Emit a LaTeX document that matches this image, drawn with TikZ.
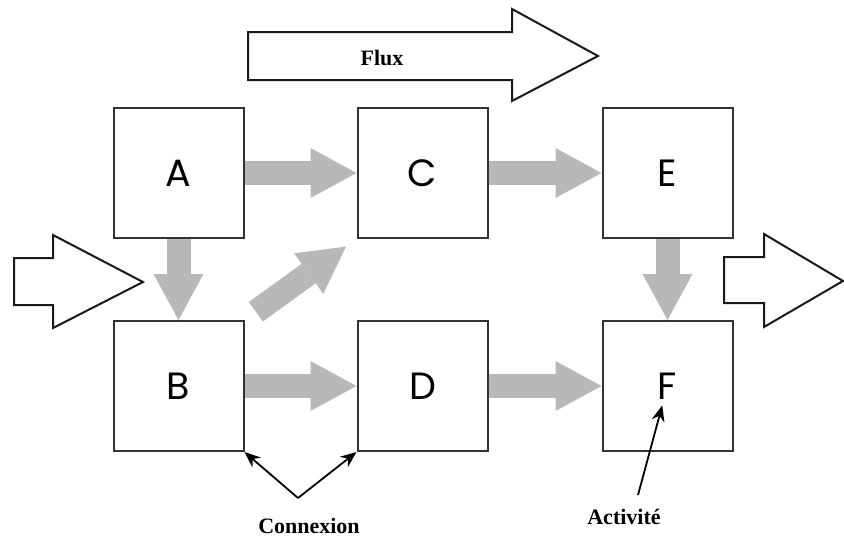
\documentclass[tikz,border=0pt]{standalone}
\usepackage{fontspec}
\setmainfont{Liberation Serif}
\newfontfamily\lettrefont{Poppins}
\usetikzlibrary{arrows.meta}
\definecolor{fluxgray}{RGB}{184,184,184}
\tikzset{
  bloc/.style={draw=black!80, fill=white, line width=2pt, minimum size=130pt,
    inner sep=0pt, font=\lettrefont\fontsize{38}{40}\selectfont},
  lien/.style={draw=fluxgray, line width=24pt,
    -{Triangle[length=46pt,width=50pt,line width=0pt]}},
  grandefleche/.style={draw=black!90, fill=white, line width=2pt, line join=miter},
  pointe/.style={draw=black, line width=1.8pt, -{Stealth[length=16pt,width=13pt]}},
  etiquette/.style={font=\bfseries\fontsize{22}{24}\selectfont, inner sep=0pt, anchor=base}
}
\begin{document}
\begin{tikzpicture}[x=1pt,y=-1pt]
      \useasboundingbox (0,0) rectangle (844,538);
      \draw[grandefleche] (248,32) -- (512,32) -- (512,9) -- (598,56)
        -- (512,101) -- (512,80) -- (248,80) -- cycle;
      \node[etiquette] (flux) at (382,65) {Flux};
      \draw[grandefleche] (14,258) -- (53,258) -- (53,235) -- (143,282)
        -- (53,328) -- (53,305) -- (14,305) -- cycle;
      \draw[grandefleche] (724,257) -- (764,257) -- (764,234) -- (843,281)
        -- (764,327) -- (764,303) -- (724,303) -- cycle;
      \draw
        (178.5,173) node[bloc] (A){A}
        (178.5,386) node[bloc] (B){B}
        (422.5,173) node[bloc] (C){C}
        (422.5,386) node[bloc] (D){D}
        (667.5,173) node[bloc] (E){E}
        (667.5,386) node[bloc] (F){F};
      \begin{scope}[lien]
        \draw (A) to (C);
        \draw (C) to (E);
        \draw (B) to (D);
        \draw (D) to (F);
        \draw (A) to (B);
        \draw (E) to (F);
        \draw[shorten <=14pt, shorten >=13pt] (B.north east) to (C.south west);
      \end{scope}
      \coordinate (sommet) at (298,498);
      \node[etiquette] (connexion) at (309,533) {Connexion};
      \draw[pointe] (sommet) to (B.south east);
      \draw[pointe] (sommet) to (D.south west);
      \coordinate (queue) at (638,495);
      \node[etiquette] (activite) at (624,524) {Activité};
      \draw[pointe, shorten >=20pt] (queue) to (F.center);
    \end{tikzpicture}
\end{document}
